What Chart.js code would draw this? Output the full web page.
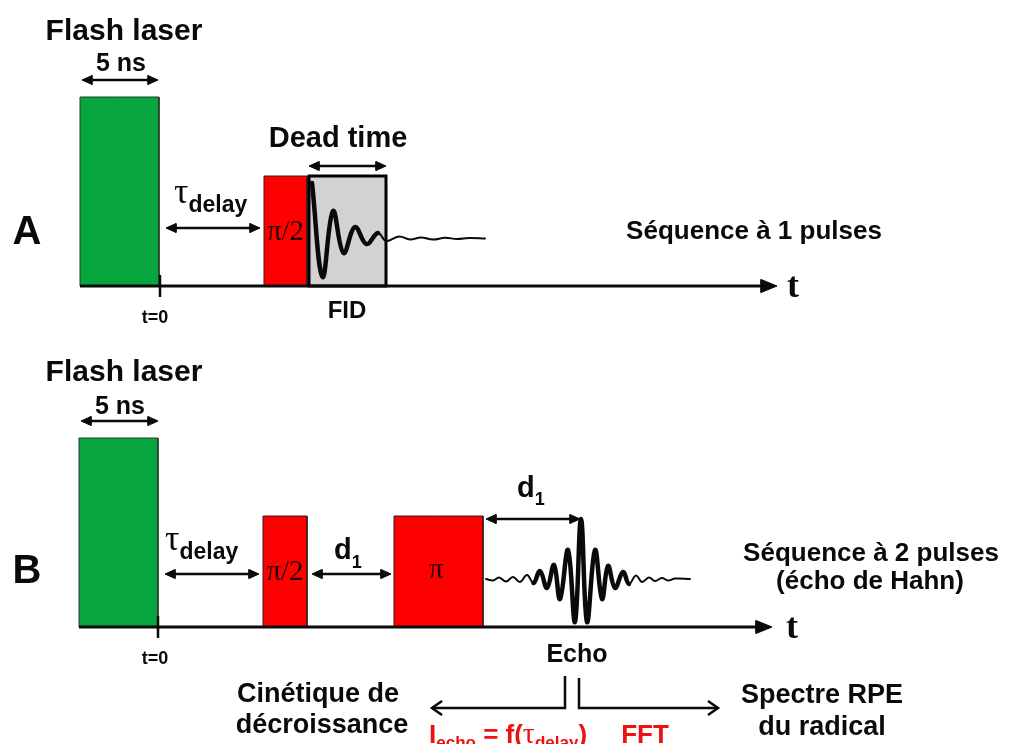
<!DOCTYPE html>
<html>
<head>
<meta charset="utf-8">
<script src="https://cdn.jsdelivr.net/npm/chart.js@4.4.1/dist/chart.umd.min.js"></script>
<style>
  html, body { margin: 0; padding: 0; background: #fff; }
  #wrap { width: 1009px; height: 744px; }
</style>
</head>
<body>
<div id="wrap"><canvas id="chart"></canvas></div>
<script>
// --- data (diagram units) ---
// time axis of each panel: level, start, arrow tip
const axisLevel = [286, 627];
const axisStart = [80, 79];
const axisTip = [777, 772];

// pulse blocks
const blockNames = ["Flash A", "pi/2 A", "Dead time", "Flash B", "pi/2 B", "pi B"];
const blockPanel = [0, 0, 0, 1, 1, 1];
const blockStart = [80, 264, 309, 79, 263, 394];
const blockEnd = [159, 307, 386, 158, 307, 483];
const blockTop = [97, 176, 176, 438, 516, 516];

// FID (panel A)
const fidX = [312, 322.5, 333, 343.5, 355, 366.5, 378, 386, 399, 410, 421, 433, 445, 457, 469, 485];
const fidY = [183, 277, 211, 253, 227, 244, 233, 241, 236.5, 239.5, 237.5, 239.5, 237.8, 239, 238, 238.5];
const fidMid = 238;

// Hahn echo (panel B)
const echoX = [486, 493, 499, 506, 513, 520, 527, 533.5, 540, 547, 554, 560, 568, 575, 581, 587, 595, 602, 608, 615, 623, 629, 636, 642, 649, 655, 662, 668, 675, 690];
const echoY = [579, 580.5, 577.5, 581.5, 577, 582, 575, 583, 571, 588, 565, 599, 550, 622, 519, 622, 550, 599, 566, 588, 572, 584, 575.5, 582, 577.5, 581, 578, 580.5, 578.5, 579];
const echoMid = 579;

// double arrows: start, end, level
const spanStart = [82, 166, 309, 81, 165, 312, 486];
const spanEnd = [158, 260, 386, 158, 259, 391, 580];
const spanLevel = [80, 228, 166, 421, 574, 574, 519];

// t = 0 marks
const zeroX = [160, 158];

// arrows under the echo: stem x, stem top, level, tip
const outStem = [565, 579];
const outTop = [676, 678];
const outLevel = [708, 708];
const outTip = [432, 718];

// --- styles ---
const blockFill = ["#07a53d", "#ff0000", "#d2d2d2", "#07a53d", "#ff0000", "#ff0000"];
const blockLine = ["#2b3b30", "#3a1a1a", "#000000", "#2b3b30", "#3a1a1a", "#3a1a1a"];
const blockLineW = [1, 1, 3, 1, 1, 1];
const INK = "#0a0a0a";
const RED = "#ee1111";
const sans = s => `bold ${s}px "Liberation Sans", Arial, sans-serif`;
const serif = (s, b) => `${b ? "bold " : ""}${s}px "Liberation Serif", "Times New Roman", serif`;

const labels = [
  { x: 124, y: 40, align: "center", runs: [{ t: "Flash laser", f: sans(30) }] },
  { x: 121, y: 71, align: "center", runs: [{ t: "5 ns", f: sans(25) }] },
  { x: 27, y: 244, align: "center", runs: [{ t: "A", f: sans(40) }] },
  { x: 174, y: 203, runs: [{ t: "\u03c4", f: serif(36) }, { t: "delay", f: sans(23), dy: 9 }] },
  { x: 285.5, y: 240, align: "center", color: "#2a0000", runs: [{ t: "\u03c0/2", f: serif(29) }] },
  { x: 338, y: 147, align: "center", runs: [{ t: "Dead time", f: sans(29) }] },
  { x: 347, y: 318, align: "center", runs: [{ t: "FID", f: sans(24) }] },
  { x: 155, y: 323, align: "center", runs: [{ t: "t=0", f: sans(18) }] },
  { x: 754, y: 239, align: "center", runs: [{ t: "S\u00e9quence \u00e0 1 pulses", f: sans(26) }] },
  { x: 793, y: 297, align: "center", runs: [{ t: "t", f: serif(36, true) }] },

  { x: 124, y: 381, align: "center", runs: [{ t: "Flash laser", f: sans(30) }] },
  { x: 120, y: 414, align: "center", runs: [{ t: "5 ns", f: sans(25) }] },
  { x: 27, y: 583, align: "center", runs: [{ t: "B", f: sans(40) }] },
  { x: 165, y: 550, runs: [{ t: "\u03c4", f: serif(36) }, { t: "delay", f: sans(23), dy: 9 }] },
  { x: 285, y: 580, align: "center", color: "#2a0000", runs: [{ t: "\u03c0/2", f: serif(29) }] },
  { x: 334, y: 559, runs: [{ t: "d", f: sans(29) }, { t: "1", f: sans(18), dy: 9 }] },
  { x: 436, y: 578, align: "center", color: "#2a0000", runs: [{ t: "\u03c0", f: serif(29) }] },
  { x: 517, y: 497, runs: [{ t: "d", f: sans(29) }, { t: "1", f: sans(18), dy: 8 }] },
  { x: 871, y: 561, align: "center", runs: [{ t: "S\u00e9quence \u00e0 2 pulses", f: sans(26) }] },
  { x: 870, y: 589, align: "center", runs: [{ t: "(\u00e9cho de Hahn)", f: sans(26) }] },
  { x: 792, y: 638, align: "center", runs: [{ t: "t", f: serif(36, true) }] },
  { x: 155, y: 664, align: "center", runs: [{ t: "t=0", f: sans(18) }] },
  { x: 577, y: 662, align: "center", runs: [{ t: "Echo", f: sans(25) }] },
  { x: 318, y: 702, align: "center", runs: [{ t: "Cin\u00e9tique de", f: sans(27) }] },
  { x: 322, y: 733, align: "center", runs: [{ t: "d\u00e9croissance", f: sans(27) }] },
  { x: 429, y: 743, color: RED, runs: [
    { t: "I", f: sans(26) }, { t: "echo", f: sans(17), dy: 5 }, { t: " = f(", f: sans(26) },
    { t: "\u03c4", f: serif(30) }, { t: "delay", f: sans(17), dy: 5 }, { t: ")", f: sans(26) }] },
  { x: 645, y: 743, align: "center", color: RED, runs: [{ t: "FFT", f: sans(26) }] },
  { x: 822, y: 703, align: "center", runs: [{ t: "Spectre RPE", f: sans(27) }] },
  { x: 822, y: 735, align: "center", runs: [{ t: "du radical", f: sans(27) }] }
];

// --- datasets ---
const datasets = [];
function addLine(points, color, width, extra) {
  datasets.push(Object.assign({
    data: points, showLine: true, fill: false, borderColor: color, borderWidth: width,
    backgroundColor: color, pointRadius: 0, tension: 0, borderJoinStyle: "miter", borderCapStyle: "butt"
  }, extra || {}));
}
function addShape(points, fillColor, lineColor, width) {
  addLine(points, lineColor, width, { fill: "shape", backgroundColor: fillColor });
}
function head(tipX, tipY, dir, len, half) {
  const bx = tipX - dir * len;
  addShape([{ x: tipX, y: tipY }, { x: bx, y: tipY - half }, { x: bx, y: tipY + half }, { x: tipX, y: tipY }], INK, INK, 1);
}

// pulse blocks
blockNames.forEach((name, i) => {
  const base = axisLevel[blockPanel[i]];
  const x0 = blockStart[i], x1 = blockEnd[i], top = blockTop[i], mid = (x0 + x1) / 2;
  addShape([{ x: mid, y: top }, { x: x1, y: top }, { x: x1, y: base }, { x: x0, y: base }, { x: x0, y: top }, { x: mid, y: top }],
    blockFill[i], blockLine[i], blockLineW[i]);
});

// time axes
axisLevel.forEach((lv, i) => {
  addLine([{ x: axisStart[i], y: lv }, { x: axisTip[i] - 10, y: lv }], INK, 3);
  head(axisTip[i], lv, 1, 16, 6.5);
  addLine([{ x: zeroX[i], y: lv - 11 }, { x: zeroX[i], y: lv + 11 }], INK, 2.5);
});

// waveforms
function wave(xs, ys, mid) {
  addLine(xs.map((x, i) => ({ x, y: ys[i] })), INK, 2, {
    tension: 0.4, borderCapStyle: "round", borderJoinStyle: "round",
    segment: { borderWidth: c => Math.max(Math.abs(c.p0.parsed.y - mid), Math.abs(c.p1.parsed.y - mid)) > 5 ? 4.5 : 2 }
  });
}
wave(fidX, fidY, fidMid);
wave(echoX, echoY, echoMid);

// double arrows
spanStart.forEach((x0, i) => {
  const x1 = spanEnd[i], lv = spanLevel[i];
  addLine([{ x: x0 + 6, y: lv }, { x: x1 - 6, y: lv }], INK, 2.5);
  head(x0, lv, -1, 10, 4.5);
  head(x1, lv, 1, 10, 4.5);
});

// arrows under the echo
outStem.forEach((sx, i) => {
  const dir = outTip[i] > sx ? 1 : -1, lv = outLevel[i];
  addLine([{ x: sx, y: outTop[i] }, { x: sx, y: lv }, { x: outTip[i], y: lv }], INK, 2.5);
  addLine([{ x: outTip[i] - dir * 10, y: lv - 7 }, { x: outTip[i], y: lv }, { x: outTip[i] - dir * 10, y: lv + 7 }], INK, 2.5);
});

// first pushed = drawn first
datasets.reverse();

const labelPlugin = {
  id: "diagramLabels",
  afterDatasetsDraw(chart) {
    const ctx = chart.ctx, sx = chart.scales.x, sy = chart.scales.y;
    labels.forEach(l => {
      ctx.save();
      ctx.fillStyle = l.color || INK;
      ctx.textBaseline = "alphabetic";
      let w = 0;
      const widths = l.runs.map(r => { ctx.font = r.f; const m = ctx.measureText(r.t).width; w += m; return m; });
      let x = sx.getPixelForValue(l.x);
      if (l.align === "center") x -= w / 2;
      const y = sy.getPixelForValue(l.y);
      l.runs.forEach((r, k) => { ctx.font = r.f; ctx.fillText(r.t, x, y + (r.dy || 0)); x += widths[k]; });
      ctx.restore();
    });
  }
};

new Chart(document.getElementById("chart"), {
  type: "scatter",
  data: { datasets: datasets },
  options: {
    responsive: true,
    maintainAspectRatio: false,
    animation: false,
    devicePixelRatio: 1,
    events: [],
    layout: { padding: 0 },
    elements: { point: { radius: 0 } },
    scales: {
      x: { type: "linear", min: 0, max: 1009, display: false },
      y: { type: "linear", min: 0, max: 744, reverse: true, display: false }
    },
    plugins: { legend: { display: false }, tooltip: { enabled: false } }
  },
  plugins: [labelPlugin]
});
</script>
</body>
</html>
